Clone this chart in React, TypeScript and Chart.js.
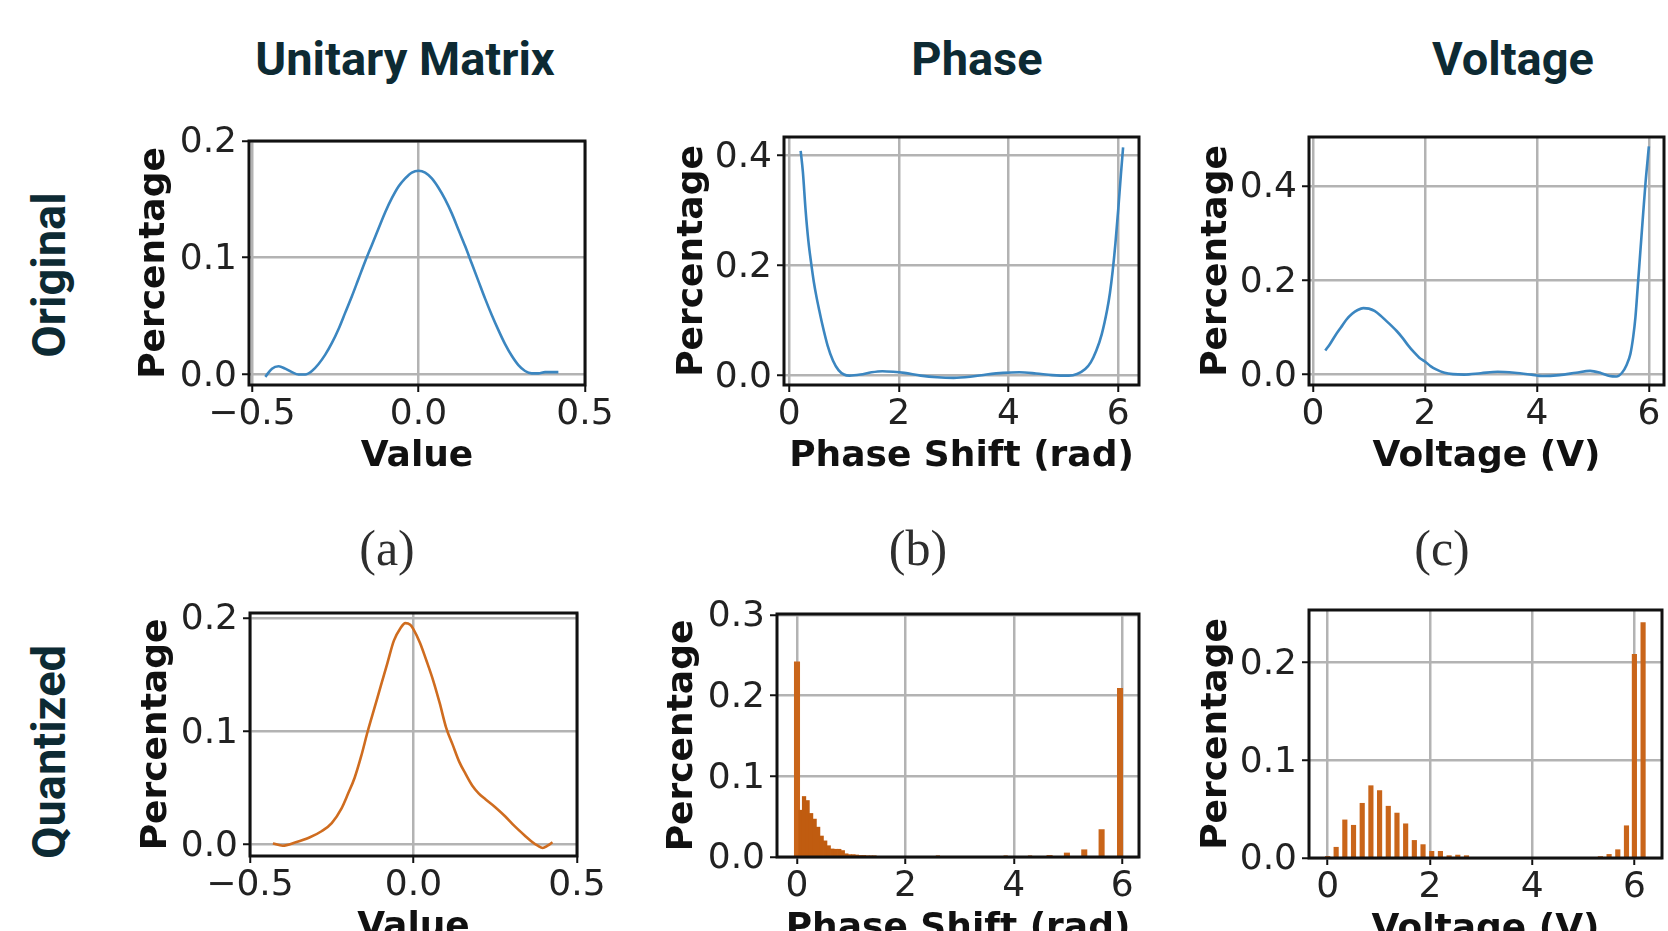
import React, { useEffect, useRef } from "react";
import { Chart, registerables } from "chart.js";

Chart.register(...registerables);

// ---------- data ----------
const unitaryOrigX = [-0.46, -0.44, -0.42, -0.4, -0.38, -0.36, -0.34, -0.32, -0.3, -0.28, -0.26, -0.24, -0.22, -0.2, -0.18, -0.16, -0.14, -0.12, -0.1, -0.08, -0.06, -0.04, -0.02, 0, 0.02, 0.04, 0.06, 0.08, 0.1, 0.12, 0.14, 0.16, 0.18, 0.2, 0.22, 0.24, 0.26, 0.28, 0.3, 0.32, 0.34, 0.36, 0.38, 0.4, 0.42];
const unitaryOrigY = [-0.002, 0.005, 0.007, 0.005, 0.002, 0.0, 0.0, 0.003, 0.009, 0.017, 0.027, 0.039, 0.053, 0.067, 0.082, 0.097, 0.111, 0.125, 0.139, 0.151, 0.161, 0.168, 0.173, 0.1745, 0.173, 0.168, 0.16, 0.15, 0.138, 0.124, 0.11, 0.095, 0.08, 0.065, 0.051, 0.038, 0.026, 0.016, 0.008, 0.003, 0.001, 0.001, 0.002, 0.002, 0.002];

const phaseOrigX = [0.21, 0.25, 0.3, 0.35, 0.4, 0.45, 0.5, 0.55, 0.6, 0.7, 0.8, 0.9, 1.0, 1.1, 1.3, 1.5, 1.7, 1.9, 2.1, 2.4, 2.7, 3.0, 3.3, 3.6, 3.9, 4.2, 4.5, 4.8, 5.1, 5.25, 5.4, 5.5, 5.6, 5.7, 5.8, 5.85, 5.9, 5.95, 6.0, 6.05, 6.09];
const phaseOrigY = [0.408, 0.37, 0.3, 0.245, 0.205, 0.17, 0.142, 0.118, 0.095, 0.055, 0.027, 0.01, 0.002, 0.0, 0.002, 0.006, 0.008, 0.007, 0.005, 0.0, -0.003, -0.004, -0.002, 0.002, 0.005, 0.006, 0.004, 0.001, 0.0, 0.003, 0.012, 0.024, 0.045, 0.075, 0.12, 0.15, 0.19, 0.24, 0.3, 0.365, 0.414];

const voltageOrigX = [0.22, 0.3, 0.4, 0.5, 0.6, 0.7, 0.8, 0.9, 1.0, 1.1, 1.2, 1.3, 1.4, 1.5, 1.6, 1.7, 1.8, 1.9, 2.0, 2.1, 2.2, 2.35, 2.5, 2.7, 3.0, 3.3, 3.6, 3.9, 4.1, 4.4, 4.7, 4.95, 5.15, 5.3, 5.42, 5.52, 5.6, 5.67, 5.72, 5.76, 5.8, 5.85, 5.9, 5.94, 6.0];
const voltageOrigY = [0.051, 0.064, 0.083, 0.1, 0.117, 0.129, 0.137, 0.141, 0.14, 0.135, 0.126, 0.115, 0.104, 0.092, 0.078, 0.062, 0.048, 0.036, 0.028, 0.018, 0.011, 0.004, 0.001, 0.0, 0.003, 0.006, 0.004, 0.0, -0.003, -0.001, 0.004, 0.008, 0.003, -0.003, -0.004, 0.004, 0.02, 0.044, 0.08, 0.122, 0.185, 0.265, 0.345, 0.407, 0.484];

const unitaryQuantX = [-0.43, -0.4, -0.36, -0.32, -0.28, -0.25, -0.22, -0.2, -0.18, -0.16, -0.14, -0.12, -0.1, -0.08, -0.06, -0.04, -0.025, -0.01, 0.0, 0.02, 0.04, 0.06, 0.08, 0.1, 0.12, 0.14, 0.16, 0.18, 0.2, 0.22, 0.25, 0.28, 0.31, 0.34, 0.36, 0.38, 0.395, 0.41, 0.425];
const unitaryQuantY = [0.001, -0.001, 0.002, 0.006, 0.012, 0.019, 0.032, 0.045, 0.059, 0.078, 0.1, 0.12, 0.14, 0.16, 0.18, 0.191, 0.1955, 0.194, 0.19, 0.178, 0.162, 0.145, 0.125, 0.103, 0.088, 0.073, 0.062, 0.052, 0.045, 0.04, 0.033, 0.025, 0.016, 0.008, 0.003, -0.001, -0.003, -0.001, 0.002];

const phaseQuantMainX = [0.0, 4.66, 4.98, 5.3, 5.62, 5.96];
const phaseQuantMainY = [0.242, 0.002, 0.005, 0.009, 0.034, 0.209];
const phaseQuantFineX = [0.065, 0.13, 0.195, 0.26, 0.325, 0.39, 0.455, 0.52, 0.585, 0.65, 0.715, 0.78, 0.845, 0.91, 0.975, 1.04, 1.105, 1.17, 1.235, 1.3, 1.365, 1.43, 2.6, 3.85, 4.3];
const phaseQuantFineY = [0.058, 0.075, 0.07, 0.054, 0.047, 0.037, 0.026, 0.02, 0.014, 0.01, 0.0096, 0.0096, 0.008, 0.004, 0.003, 0.003, 0.0025, 0.002, 0.002, 0.0015, 0.001, 0.001, 0.0008, 0.0008, 0.0008];

const voltageQuantX = [0, 0.165, 0.335, 0.505, 0.675, 0.845, 1.015, 1.185, 1.355, 1.525, 1.695, 1.865, 2.035, 2.205, 2.375, 2.545, 2.715, 5.335, 5.505, 5.675, 5.845, 6.0, 6.17];
const voltageQuantY = [0.0017, 0.011, 0.039, 0.0335, 0.056, 0.074, 0.069, 0.053, 0.046, 0.035, 0.018, 0.0137, 0.0068, 0.0068, 0.0024, 0.003, 0.0024, 0.0015, 0.0037, 0.0085, 0.033, 0.2085, 0.241];

// tick values
const unitaryXTicks = [-0.5, 0, 0.5];
const angleXTicks = [0, 2, 4, 6];
const unitaryOrigYTicks = [0, 0.1, 0.2];
const phaseOrigYTicks = [0, 0.2, 0.4];
const voltageOrigYTicks = [0, 0.2, 0.4];
const unitaryQuantYTicks = [0, 0.1, 0.2];
const phaseQuantYTicks = [0, 0.1, 0.2, 0.3];
const voltageQuantYTicks = [0, 0.1, 0.2];

// labels
const columnTitles = ["Unitary Matrix", "Phase", "Voltage"];
const rowTitles = ["Original", "Quantized"];
const subLabels = ["(a)", "(b)", "(c)"];

// ---------- styles ----------
const BLUE = "#3b86c0";
const ORANGE_LINE = "#cf6c1f";
const ORANGE_BAR = "#c9651a";
const ORANGE_DENSE = "#c05c10";
const GRID = "#b3b3b3";
const FRAME = "#111111";
const HEAD = "#0d2a33";
const TICK_FONT = { family: "'DejaVu Sans', sans-serif", size: 36 };
const TITLE_FONT = { family: "'DejaVu Sans', sans-serif", size: 36, weight: "bold" as const };

const pts = (xs: number[], ys: number[]) => xs.map((x, i) => ({ x, y: ys[i] }));
const minusFmt = (v: number) => v.toFixed(1).replace("-", "\u2212");
const oneDec = (v: number) => v.toFixed(1);
const intFmt = (v: number) => String(Math.round(v));

const framePlugin = {
  id: "frameBox",
  afterDraw(chart: any) {
    const { ctx, chartArea } = chart;
    ctx.save();
    ctx.strokeStyle = FRAME;
    ctx.lineWidth = 3;
    ctx.strokeRect(chartArea.left, chartArea.top, chartArea.right - chartArea.left, chartArea.bottom - chartArea.top);
    ctx.restore();
  },
};

interface PanelSpec {
  type: "line" | "bar";
  box: { l: number; t: number; r: number; b: number };
  titleX: number;
  xMin: number; xMax: number; yMin: number; yMax: number;
  xTicks: number[]; yTicks: number[];
  xFmt: (v: number) => string;
  yFmt: (v: number) => string;
  xTitle: string;
  datasets: any[];
}

const PAD_TOP = 34;
const PAD_RIGHT = 38;
const X_AXIS_H = 93;
const TITLE_HALF = 21.6;

const lineDs = (xs: number[], ys: number[], color: string) => ({
  data: pts(xs, ys),
  borderColor: color,
  borderWidth: 2.6,
  pointRadius: 0,
  fill: false,
  cubicInterpolationMode: "monotone",
});

const barDs = (xs: number[], ys: number[], color: string, thickness: number) => ({
  data: pts(xs, ys),
  backgroundColor: color,
  borderWidth: 0,
  barThickness: thickness,
  grouped: false,
});

const panels: PanelSpec[] = [
  {
    type: "line", box: { l: 249, t: 141, r: 585, b: 385 }, titleX: 155,
    xMin: -0.509, xMax: 0.5, yMin: -0.009, yMax: 0.2,
    xTicks: unitaryXTicks, yTicks: unitaryOrigYTicks, xFmt: minusFmt, yFmt: oneDec,
    xTitle: "Value", datasets: [lineDs(unitaryOrigX, unitaryOrigY, BLUE)],
  },
  {
    type: "line", box: { l: 784, t: 137, r: 1139, b: 385 }, titleX: 692.5,
    xMin: -0.094, xMax: 6.38, yMin: -0.017, yMax: 0.433,
    xTicks: angleXTicks, yTicks: phaseOrigYTicks, xFmt: intFmt, yFmt: oneDec,
    xTitle: "Phase Shift (rad)", datasets: [lineDs(phaseOrigX, phaseOrigY, BLUE)],
  },
  {
    type: "line", box: { l: 1309, t: 137, r: 1664, b: 385 }, titleX: 1217,
    xMin: -0.07, xMax: 6.27, yMin: -0.022, yMax: 0.504,
    xTicks: angleXTicks, yTicks: voltageOrigYTicks, xFmt: intFmt, yFmt: oneDec,
    xTitle: "Voltage (V)", datasets: [lineDs(voltageOrigX, voltageOrigY, BLUE)],
  },
  {
    type: "line", box: { l: 250, t: 613, r: 577, b: 856 }, titleX: 157,
    xMin: -0.5, xMax: 0.5, yMin: -0.0101, yMax: 0.2044,
    xTicks: unitaryXTicks, yTicks: unitaryQuantYTicks, xFmt: minusFmt, yFmt: oneDec,
    xTitle: "Value", datasets: [lineDs(unitaryQuantX, unitaryQuantY, ORANGE_LINE)],
  },
  {
    type: "bar", box: { l: 777, t: 614, r: 1139, b: 857 }, titleX: 683,
    xMin: -0.369, xMax: 6.31, yMin: 0, yMax: 0.3012,
    xTicks: angleXTicks, yTicks: phaseQuantYTicks, xFmt: intFmt, yFmt: oneDec,
    xTitle: "Phase Shift (rad)",
    datasets: [
      barDs(phaseQuantFineX, phaseQuantFineY, ORANGE_DENSE, 3.6),
      barDs(phaseQuantMainX, phaseQuantMainY, ORANGE_BAR, 5.4),
    ],
  },
  {
    type: "bar", box: { l: 1309, t: 610, r: 1662, b: 858 }, titleX: 1217,
    xMin: -0.366, xMax: 6.54, yMin: 0, yMax: 0.2538,
    xTicks: angleXTicks, yTicks: voltageQuantYTicks, xFmt: intFmt, yFmt: oneDec,
    xTitle: "Voltage (V)", datasets: [barDs(voltageQuantX, voltageQuantY, ORANGE_BAR, 4.5)],
  },
];

function Panel({ spec }: { spec: PanelSpec }) {
  const ref = useRef<HTMLCanvasElement>(null);
  const cl = Math.round(spec.titleX - TITLE_HALF);
  const ct = spec.box.t - PAD_TOP;
  const w = spec.box.r + PAD_RIGHT - cl;
  const h = spec.box.b + X_AXIS_H - ct;
  const yW = spec.box.l - cl;

  useEffect(() => {
    const gridOpts = { color: GRID, lineWidth: 2.5, tickColor: FRAME, tickLength: 7, tickWidth: 2, offset: false };
    const chart = new Chart(ref.current as HTMLCanvasElement, {
      type: spec.type,
      data: { datasets: spec.datasets },
      options: {
        responsive: false,
        animation: false,
        devicePixelRatio: 1,
        layout: { padding: { top: PAD_TOP, right: PAD_RIGHT, left: 0, bottom: 0 } },
        plugins: { legend: { display: false }, tooltip: { enabled: false } },
        scales: {
          x: {
            type: "linear",
            min: spec.xMin,
            max: spec.xMax,
            offset: false,
            afterBuildTicks: (s: any) => { s.ticks = spec.xTicks.map((v) => ({ value: v })); },
            afterFit: (s: any) => { s.height = X_AXIS_H; },
            ticks: { font: TICK_FONT, color: "#222", padding: 1, maxRotation: 0, autoSkip: false, callback: (v: any) => spec.xFmt(Number(v)) },
            grid: gridOpts,
            border: { display: false },
            title: { display: true, text: spec.xTitle, font: TITLE_FONT, color: "#111", padding: 0 },
          },
          y: {
            type: "linear",
            min: spec.yMin,
            max: spec.yMax,
            afterBuildTicks: (s: any) => { s.ticks = spec.yTicks.map((v) => ({ value: v })); },
            afterFit: (s: any) => { s.width = yW; },
            ticks: { font: TICK_FONT, color: "#222", padding: 5, labelOffset: 2, autoSkip: false, callback: (v: any) => spec.yFmt(Number(v)) },
            grid: gridOpts,
            border: { display: false },
            title: { display: true, text: "Percentage", font: TITLE_FONT, color: "#111", padding: 0 },
          },
        },
      } as any,
      plugins: [framePlugin],
    });
    return () => chart.destroy();
  }, []);

  return (
    <canvas
      ref={ref}
      width={w}
      height={h}
      style={{ position: "absolute", left: cl, top: ct, width: w, height: h }}
    />
  );
}

const headStyle: React.CSSProperties = {
  position: "absolute",
  fontFamily: "Roboto, sans-serif",
  fontWeight: 700,
  fontSize: 47,
  lineHeight: 1,
  color: HEAD,
  whiteSpace: "nowrap",
};

const columnCenters = [405, 977, 1513];
const rowCenters = [275, 752];
const subCenters = [387, 918, 1442];

export default function App() {
  return (
    <div style={{ position: "absolute", left: 0, top: 0, width: 1668, height: 931, overflow: "hidden", background: "#fff" }}>
      {columnTitles.map((t, i) => (
        <div key={t} style={{ ...headStyle, left: columnCenters[i], top: 58, transform: "translate(-50%, -50%)" }}>{t}</div>
      ))}
      {rowTitles.map((t, i) => (
        <div key={t} style={{ ...headStyle, left: 48, top: rowCenters[i], transform: "translate(-50%, -50%) rotate(-90deg)" }}>{t}</div>
      ))}
      {subLabels.map((t, i) => (
        <div
          key={t}
          style={{
            position: "absolute", left: subCenters[i], top: 548, transform: "translate(-50%, -50%)",
            fontFamily: "'Liberation Serif', serif", fontSize: 50, lineHeight: 1, color: "#2e2e2e", whiteSpace: "nowrap",
          }}
        >
          {t}
        </div>
      ))}
      {panels.map((p, i) => (
        <Panel key={i} spec={p} />
      ))}
    </div>
  );
}
